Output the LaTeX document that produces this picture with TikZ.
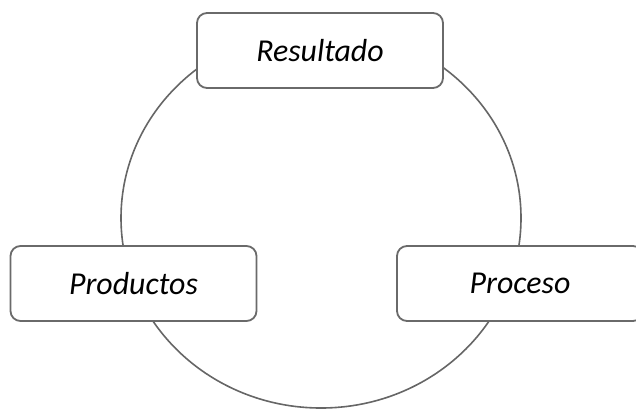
\documentclass[tikz,border=0pt]{standalone}
\usepackage{fontspec}
\setmainfont{Carlito}
\usetikzlibrary{positioning}
\begin{document}
\begin{tikzpicture}[x=1bp,y=-1bp,
  box/.style={draw=boxgray, line width=1.8bp, fill=white, rounded corners=10bp,
    minimum width=246bp, minimum height=75bp, inner sep=0pt,
    font=\fontsize{32}{36}\selectfont\itshape},
  ring/.style={draw=ringgray, line width=1.6bp}]
\definecolor{boxgray}{HTML}{6A6A6A}
\definecolor{ringgray}{HTML}{666666}
\useasboundingbox (0,0) rectangle (636,411);
\clip (0,0) rectangle (636,411);
\coordinate (c) at (321,218);
\draw[ring] (c) ellipse [x radius=200, y radius=190];
\node[box] (res) at (320,50.5) {Resultado};
\node[box] (prod) at (133.5,283.5) {Productos};
\node[box] (proc) at (520,283.5) {Proceso};
\end{tikzpicture}
\end{document}
